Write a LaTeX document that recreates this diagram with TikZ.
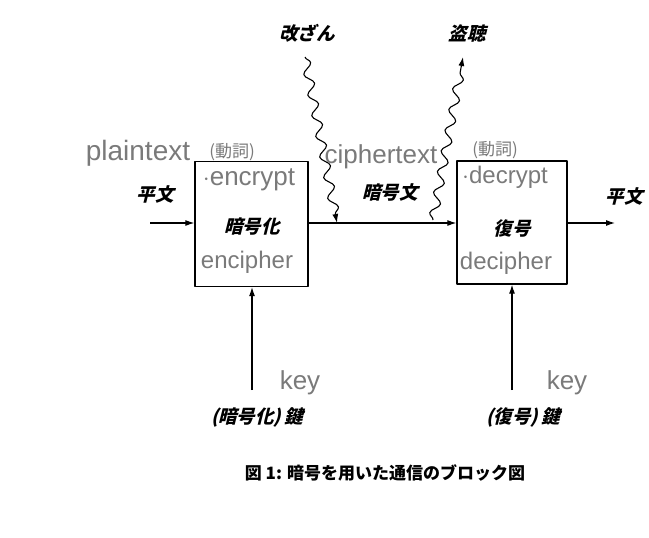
\documentclass[tikz,border=0pt]{standalone}
\usepackage{fontspec}
\newfontfamily\jp{Noto Sans CJK JP}
\newfontfamily\jpsl[FakeSlant=0.25]{Noto Sans CJK JP}
\newfontfamily\hand{Liberation Sans}
\usetikzlibrary{arrows.meta,decorations.pathmorphing}
\definecolor{pencil}{gray}{0.48}
\tikzset{
	blk/.style={draw=black, line width=1.3pt, minimum width=113pt, minimum height=125pt, inner sep=0pt},
	jlabel/.style={font=\jpsl\bfseries\fontsize{18.5}{18.5}\selectfont},
	memo/.style={text=pencil, font=\hand\fontsize{24}{24}\selectfont, inner sep=0pt},
	memoj/.style={text=pencil, font=\jp\fontsize{17}{17}\selectfont, inner sep=0pt},
	wave/.style={decorate, decoration={snake, amplitude=4.5pt, segment length=21pt, post length=7pt}}
}
\begin{document}
\begin{tikzpicture}[x=1pt, y=-1pt, line width=1.1pt, line join=round, >={Latex[length=9pt,width=6pt]}]
			\useasboundingbox (0,0) rectangle (649,538);
			\path
			(150,223) coordinate (Pin)
			(615,223) coordinate (Pout)
			(252,390) coordinate (Kenc)
			(512,390) coordinate (Kdec)
			(337,223) coordinate (T)
			(433,220) coordinate (E)
			;
			\node[blk] (enc) at (251.5,224) {};
			\node[blk, minimum width=110pt, minimum height=123pt] (dec) at (512,222.5) {};
			
			% printed labels
			\node[jlabel] (pl1) at (155,195) {平文};
			\node[jlabel] (pl2) at (624,197) {平文};
			\node[jlabel] (encj) at (252,227) {暗号化};
			\node[jlabel] (decj) at (512,228) {復号};
			\node[jlabel] (ctj) at (390,193) {暗号文};
			\node[jlabel] (kencj) at (257,417) {(暗号化)\,鍵};
			\node[jlabel] (kdecj) at (523,417) {(復号)\,鍵};
			\node[jlabel] (tamper) at (307,33) {改ざん};
			\node[jlabel] (eaves) at (467,33) {盗聴};
			
			\draw[->] (Pin) -- (enc.west |- Pin);
			\draw[->] (enc.east |- Pin) -- (dec.west |- Pin);
			\draw[->] (dec.east |- Pout) -- (Pout);
			\draw[->] (Kenc) -- (enc.south -| Kenc);
			\draw[->] (Kdec) -- (dec.south -| Kdec);
			\draw[->, wave] (305,57) -- (T);
			\draw[->, wave] (E) -- (463,57);
			
			% pencil notes
			\node[memo, font=\hand\fontsize{28}{28}\selectfont] (pt) at (138,153) {plaintext};
			\node[memoj] (v1) at (232,152) {(動詞)};
			\node[memo, font=\hand\fontsize{26}{26}\selectfont] (ec) at (249,180) {$\cdot$encrypt};
			\node[memo] (ep) at (247,262) {encipher};
			\node[memo, font=\hand\fontsize{26}{26}\selectfont] (ct) at (381,157) {ciphertext};
			\node[memoj] (v2) at (495,150) {(動詞)};
			\node[memo] (dc) at (505,177) {$\cdot$decrypt};
			\node[memo] (dp) at (506,263) {decipher};
			\node[memo, font=\hand\fontsize{26}{26}\selectfont] (k1) at (300,383) {key};
			\node[memo, font=\hand\fontsize{26}{26}\selectfont] (k2) at (567,383) {key};
			
			\node[font=\jp\bfseries\fontsize{17}{17}\selectfont] (cap) at (385,473) {図 1: 暗号を用いた通信のブロック図};
		\end{tikzpicture}
\end{document}
